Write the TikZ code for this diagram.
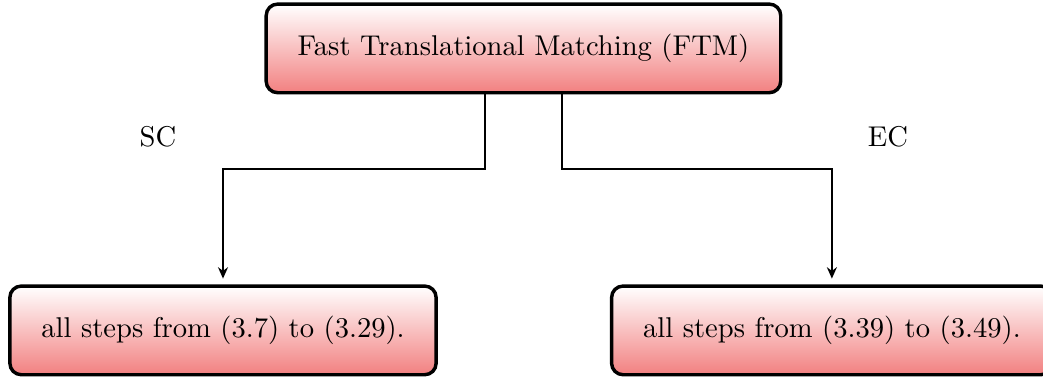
\documentclass[tikz,border=0pt]{standalone}
\usetikzlibrary{arrows.meta}

\definecolor{boxred}{RGB}{242,128,128}

\tikzset{
  stepbox/.style={draw,very thick,rounded corners=4pt,top color=white,bottom color=boxred,
    minimum height=31pt,inner xsep=11pt},
  link/.style={semithick,-{Stealth[length=4pt,width=3.5pt]},shorten >=2pt}
}

\begin{document}
\begin{tikzpicture}
  \useasboundingbox (0,0) rectangle (12.82,4.645);

  % Boxes
  \node[stepbox] (ftm) at (6.434,4.050) {Fast Translational Matching (FTM)};
  \node[stepbox] (sc) at (2.741,0.584) {all steps from (3.7) to (3.29).};
  \node[stepbox] (ec) at (10.225,0.584) {all steps from (3.39) to (3.49).};

  % Branches
  \coordinate (split) at (6.434,2.569);
  \draw[link] ([xshift=-13.5pt]ftm.south) -- ([xshift=-13.5pt]ftm.south |- split) -| (sc.north);
  \draw[link] ([xshift=13.5pt]ftm.south) -- ([xshift=13.5pt]ftm.south |- split) -| (ec.north);

  % Labels
  \node (sclabel) at (1.942,2.962) {SC};
  \node (eclabel) at (10.914,2.962) {EC};
\end{tikzpicture}
\end{document}
